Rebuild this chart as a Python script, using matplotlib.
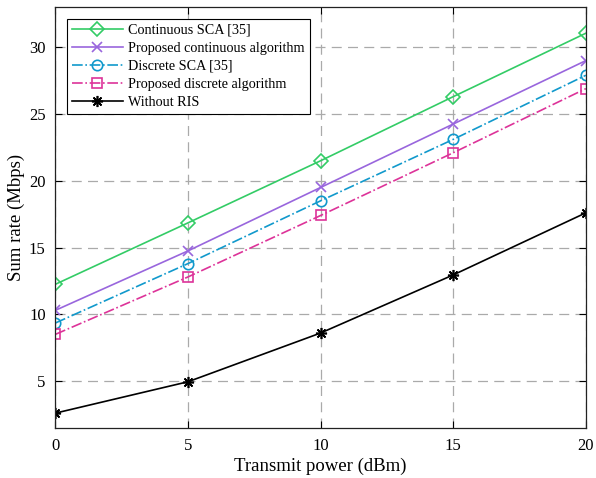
import matplotlib
matplotlib.use("Agg")
import matplotlib.pyplot as plt

power = [0, 5, 10, 15, 20]
cont_sca = [12.25, 16.85, 21.5, 26.3, 31.05]
prop_cont = [10.3, 14.75, 19.5, 24.25, 29.0]
disc_sca = [9.35, 13.8, 18.5, 23.1, 27.9]
prop_disc = [8.5, 12.8, 17.4, 22.1, 26.9]
no_ris = [2.6, 4.95, 8.6, 12.95, 17.6]

series = [
    ("Continuous SCA [35]", cont_sca, "#33cc66", "-", "D", 7),
    ("Proposed continuous algorithm", prop_cont, "#9966dd", "-", "x", 6.5),
    ("Discrete SCA [35]", disc_sca, "#1199cc", "-.", "o", 7.5),
    ("Proposed discrete algorithm", prop_disc, "#dd3399", "-.", "s", 6.5),
    ("Without RIS", no_ris, "black", "-", (8, 2, 0), 8),
]

plt.rcParams["font.family"] = ["Liberation Serif", "DejaVu Serif"]

fig = plt.figure(figsize=(5.96, 4.78), dpi=100)
ax = fig.add_axes([0.093, 0.105, 0.89, 0.88])

for label, vals, color, ls, mk, ms in series:
    ax.plot(power, vals, color=color, linestyle=ls, linewidth=1.2,
            marker=mk, markersize=ms, markerfacecolor="none",
            markeredgecolor=color, markeredgewidth=1.2, label=label)

ax.set_xlim(0, 20)
ax.set_ylim(1.5, 33)
ax.set_xticks(power)
ax.set_yticks([5, 10, 15, 20, 25, 30])
ax.grid(True, color="#aaaaaa", linestyle=(0, (8, 5)), linewidth=0.9)
ax.tick_params(direction="in", top=True, right=True, labelsize=12,
               length=5, width=0.8, pad=7)
for sp in ax.spines.values():
    sp.set_linewidth(0.9)
    sp.set_color("#222222")

ax.set_xlabel("Transmit power (dBm)", fontsize=13.5, labelpad=3)
ax.set_ylabel("Sum rate (Mbps)", fontsize=13.5, labelpad=3)

leg = ax.legend(loc="upper left", fontsize=10.2, handlelength=3.6,
                borderaxespad=0.8, labelspacing=0.36, frameon=True,
                fancybox=False, edgecolor="black", framealpha=1,
                borderpad=0.35, handletextpad=0.4)
leg.get_frame().set_linewidth(0.8)

fig.savefig("out.png", dpi=100)
